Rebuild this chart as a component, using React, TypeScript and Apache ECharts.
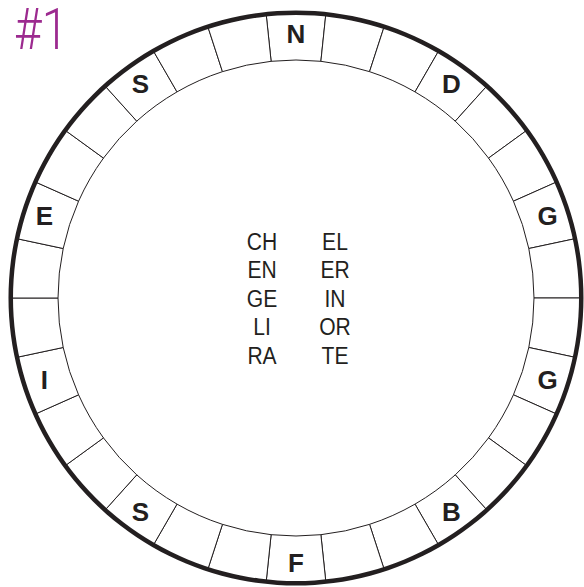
import React, { useEffect, useRef } from "react";
import * as echarts from "echarts";

const ringLetters: string[] = [
  "N", "", "", "D", "", "", "G", "", "", "G",
  "", "", "B", "", "", "F", "", "", "S", "",
  "", "I", "", "", "E", "", "", "S", "", "",
];
const segmentValues: number[] = [
  1, 1, 1, 1, 1, 1, 1, 1, 1, 1,
  1, 1, 1, 1, 1, 1, 1, 1, 1, 1,
  1, 1, 1, 1, 1, 1, 1, 1, 1, 1,
];
const leftColumn: string[] = ["CH", "EN", "GE", "LI", "RA"];
const rightColumn: string[] = ["EL", "ER", "IN", "OR", "TE"];
const puzzleTitle = "#1";

const INK = "#231f20";

export default function App() {
  const ref = useRef<HTMLDivElement>(null);
  useEffect(() => {
    document.body.style.margin = "0";
    const chart = echarts.init(ref.current!, undefined, { renderer: "svg" });
    const cx = 296;
    const cy = 298;
    const colText = (text: string, x: number) => ({
      type: "text",
      x,
      y: 298,
      scaleX: 0.86,
      style: {
        text,
        fontFamily: "Liberation Sans, Arial, sans-serif",
        fontSize: 24.5,
        lineHeight: 28.5,
        align: "center",
        verticalAlign: "middle",
        fill: INK,
      },
    });
    chart.setOption({
      animation: false,
      backgroundColor: "#ffffff",
      graphic: [
        {
          type: "text",
          x: 14,
          y: 29,
          scaleX: 0.82,
          style: {
            text: puzzleTitle,
            fontFamily: "Roboto",
            fontWeight: 300,
            fontSize: 58,
            lineHeight: 46,
            verticalAlign: "middle",
            fill: "#9c2a8f",
          },
        },
        colText(leftColumn.join("\n"), 262),
        colText(rightColumn.join("\n"), 335),
      ],
      series: [
        {
          type: "pie",
          center: [cx, cy],
          radius: [238, 285],
          startAngle: 96,
          clockwise: true,
          silent: true,
          avoidLabelOverlap: false,
          itemStyle: { color: "#ffffff", borderColor: INK, borderWidth: 1 },
          label: {
            show: true,
            position: "inside",
            formatter: (p: any) => p.name,
            fontFamily: "Liberation Sans Narrow, Arial Narrow, Liberation Sans, sans-serif",
            fontWeight: "bold",
            fontSize: 26,
            color: INK,
          },
          labelLine: { show: false },
          emphasis: { disabled: true },
          data: segmentValues.map((v, i) => ({ value: v, name: ringLetters[i] })),
        },
        {
          type: "pie",
          center: [cx, cy],
          radius: [283, 287.5],
          silent: true,
          label: { show: false },
          labelLine: { show: false },
          itemStyle: { color: INK, borderWidth: 0 },
          emphasis: { disabled: true },
          data: [{ value: 1, name: "" }],
        },
      ],
    });
    return () => chart.dispose();
  }, []);
  return <div ref={ref} style={{ width: 584, height: 587 }} />;
}
